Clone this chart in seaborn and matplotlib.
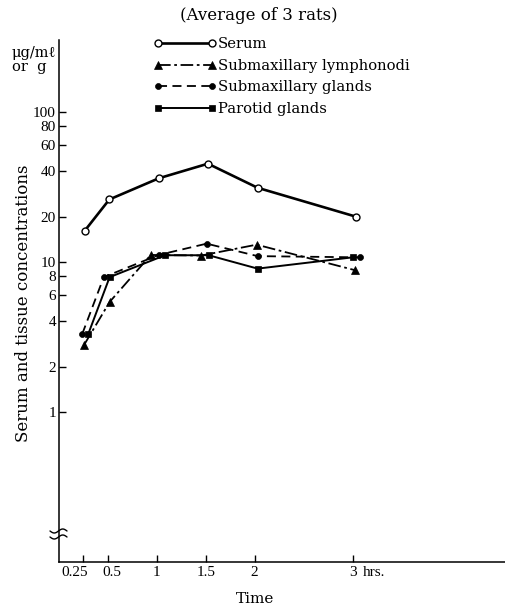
import numpy as np
import pandas as pd
import matplotlib
matplotlib.use("Agg")
import matplotlib.pyplot as plt
import seaborn as sns
from matplotlib.lines import Line2D
from matplotlib.transforms import ScaledTranslation

# ---- data ----
serum_t = [0.266, 0.517, 1.023, 1.523, 2.03, 3.03]
serum_v = [16.1, 26.0, 36.0, 45.0, 31.1, 20.0]
lymph_t = [0.26, 0.52, 0.94, 1.455, 2.02, 3.02]
lymph_v = [2.8, 5.4, 11.1, 11.0, 13.0, 8.8]
subgl_t = [0.24, 0.46, 1.02, 1.51, 2.03, 3.07]
subgl_v = [3.3, 7.9, 11.1, 13.2, 10.9, 10.7]
parot_t = [0.30, 0.52, 1.085, 1.53, 2.03, 3.0]
parot_v = [3.28, 7.9, 11.05, 11.05, 9.0, 10.7]

series_names = ["Serum", "Submaxillary lymphonodi", "Submaxillary glands", "Parotid glands"]
xtick_vals = [0.25, 0.5, 1, 1.5, 2, 3]
xtick_labels = ["0.25", "0.5", "1", "1.5", "2", "3"]
ytick_vals = [1, 2, 4, 6, 8, 10, 20, 40, 60, 80, 100]
ytick_labels = ["1", "2", "4", "6", "8", "10", "20", "40", "60", "80", "100"]

sns.set_theme(style="white")
plt.rcParams['font.family'] = ['DejaVu Serif', 'Liberation Serif']
plt.rcParams['axes.linewidth'] = 1.1
for key in ('text.color', 'axes.labelcolor', 'xtick.color', 'ytick.color', 'axes.edgecolor'):
    plt.rcParams[key] = 'black'

W, H = 506, 607
fig = plt.figure(figsize=(W / 100, H / 100), dpi=100)
AX_W, AX_H = W - 58.7, 562 - 40
ax = fig.add_axes([58.7 / W, 1 - 562 / H, AX_W / W, AX_H / H])

styles = [
    dict(t=serum_t, v=serum_v, ls='-', lw=1.9, marker='o', ms=5, mfc='white', mew=1.0),
    dict(t=lymph_t, v=lymph_v, ls=(0, (7, 2, 1.5, 2)), lw=1.3, marker='^', ms=5.5, mfc='black', mew=0.5),
    dict(t=subgl_t, v=subgl_v, ls=(0, (5, 3)), lw=1.3, marker='o', ms=4.3, mfc='black', mew=0.5),
    dict(t=parot_t, v=parot_v, ls='-', lw=1.4, marker='s', ms=4.3, mfc='black', mew=0.5),
]
for name, s in zip(series_names, styles):
    df = pd.DataFrame({"t": s["t"], "v": s["v"]})
    sns.lineplot(data=df, x="t", y="v", ax=ax, color="black", linestyle=s["ls"],
                 linewidth=s["lw"], marker=s["marker"], markersize=s["ms"],
                 markerfacecolor=s["mfc"], markeredgecolor="black",
                 markeredgewidth=s["mew"], label=name, legend=False)

ax.set_yscale("log")
ax.set_ylim(0.1, 300)
ax.set_xlim(0, 4.565)
ax.set_yticks(ytick_vals)
ax.set_yticklabels(ytick_labels)
ax.minorticks_off()
ax.set_xticks(xtick_vals)
ax.set_xticklabels(xtick_labels)
ax.tick_params(axis='both', direction='in', length=5, width=1.0, color='black',
               labelsize=11, labelcolor='black', left=True, bottom=True)
ax.tick_params(axis='y', pad=2)
ax.tick_params(axis='x', pad=3)
for lab in ax.get_xticklabels() + ax.get_yticklabels():
    lab.set_family('Liberation Serif')
# slight horizontal nudges of the crowded first two x labels, as in the reference
xlabs = ax.get_xticklabels()
for lab, dx in zip(xlabs[:2], (-9, 4)):
    lab.set_transform(lab.get_transform() + ScaledTranslation(dx / 100, 0, fig.dpi_scale_trans))
for side in ("top", "right"):
    ax.spines[side].set_visible(False)
for side in ("left", "bottom"):
    ax.spines[side].set_color("black")

ax.annotate("hrs.", xy=(3, 0), xycoords=('data', 'axes fraction'),
            xytext=(7.5, -3), textcoords='offset points', ha='left', va='top',
            fontsize=11, color='black', family='Liberation Serif')

ax.set_xlabel("Time", fontsize=11, color='black')
ax.xaxis.set_label_coords((255 - 58.7) / AX_W, (562 - 592) / AX_H)
ax.set_ylabel("Serum and tissue concentrations", fontsize=12, color='black')
ax.yaxis.set_label_coords(-(58.7 - 32) / AX_W, (562 - 303) / AX_H)

fig.text(12 / W, 1 - 60 / H, "μg/mℓ\nor  g", ha='left', va='center',
         fontsize=10.5, linespacing=0.95, color='black')
fig.text(259 / W, 1 - 15 / H, "(Average of 3 rats)", ha='center', va='center',
         fontsize=12, color='black')

fs_leg = 10.6
fs_px = fs_leg * 100 / 72
handles, labels = ax.get_legend_handles_labels()
ax.legend(handles, labels, loc='upper left',
          bbox_to_anchor=((158 - 0.3 * fs_px) / W, 1 - 37 / H),
          bbox_transform=fig.transFigure, frameon=False, numpoints=2,
          handlelength=(54 + 0.6 * fs_px) / fs_px, handletextpad=0.12,
          labelspacing=0.52, borderpad=0, borderaxespad=0, fontsize=fs_leg,
          labelcolor='black')

# axis break mark on the y-axis
xs = np.linspace(50, 67, 30)
for y0 in (531, 537):
    ys = y0 + 2.0 * np.sin((xs - 50) / 17 * 2 * np.pi)
    fig.add_artist(Line2D(xs / W, 1 - ys / H, color='black', lw=1.0))

fig.savefig("out.png", dpi=100)
